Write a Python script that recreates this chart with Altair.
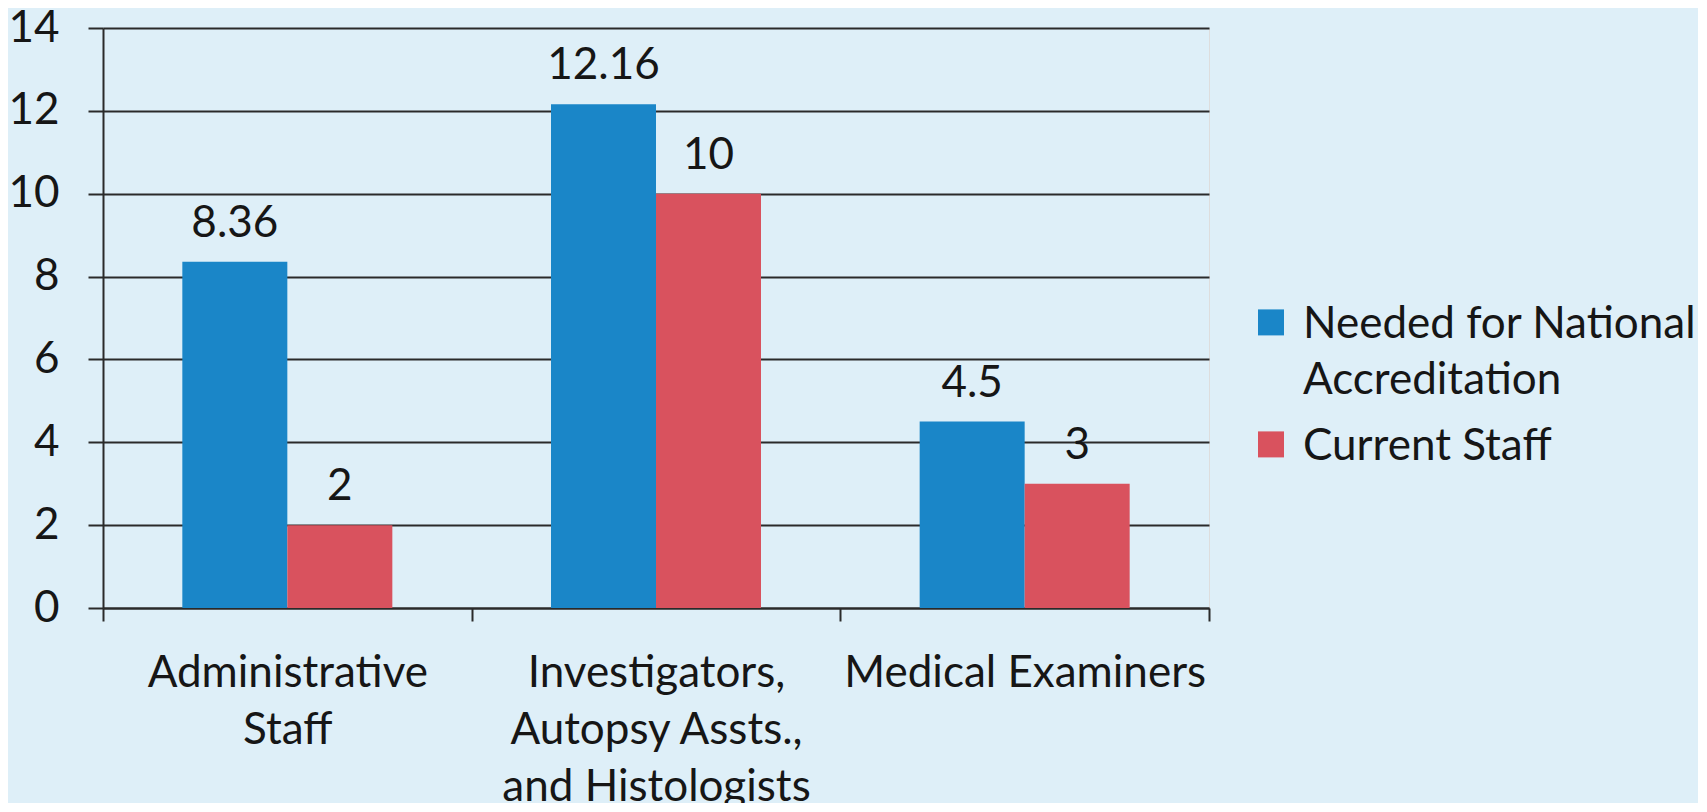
import altair as alt
import pandas as pd

categories = [
    "Administrative Staff",
    "Investigators, Autopsy Assts., and Histologists",
    "Medical Examiners",
]
series = ["Needed for National Accreditation", "Current Staff"]
needed = [8.36, 12.16, 4.5]
current = [2, 10, 3]
colors = ["#1A86C8", "#D9525E"]
y_ticks = [0, 2, 4, 6, 8, 10, 12, 14]

rows = []
for i, c in enumerate(categories):
    rows.append({"category": c, "series": series[0], "value": needed[i], "label": f"{needed[i]:g}"})
    rows.append({"category": c, "series": series[1], "value": current[i], "label": f"{current[i]:g}"})
df = pd.DataFrame(rows)

FONT = "Lato"
FS = 44
TXT = "#161616"
LINE = "#2a2a2a"

x_label_expr = (
    "datum.label == 'Administrative Staff' ? ['Administrative', 'Staff'] : "
    "datum.label == 'Investigators, Autopsy Assts., and Histologists' ? "
    "['Investigators,', 'Autopsy Assts.,', 'and Histologists'] : datum.label"
)
legend_label_expr = (
    "datum.label == 'Needed for National Accreditation' ? "
    "['Needed for National', 'Accreditation'] : datum.label"
)

x_enc = alt.X(
    "category:N",
    sort=categories,
    scale=alt.Scale(paddingInner=0, paddingOuter=0),
    axis=alt.Axis(
        title=None,
        labelAngle=0,
        tickBand="extent",
        labelExpr=x_label_expr,
        labelFont=FONT,
        labelFontSize=FS,
        labelColor=TXT,
        labelLineHeight=57,
        labelPadding=30,
        labelLimit=0,
        tickSize=13,
        tickColor=LINE,
        tickWidth=2,
        domainColor=LINE,
        domainWidth=2,
        grid=False,
    ),
)
xoff_enc = alt.XOffset(
    "series:N", sort=series, scale=alt.Scale(paddingInner=0, paddingOuter=0.7555)
)
y_enc = alt.Y(
    "value:Q",
    scale=alt.Scale(domain=[0, 14], nice=False),
    axis=alt.Axis(
        title=None,
        values=y_ticks,
        grid=True,
        gridColor=LINE,
        gridWidth=2,
        tickSize=15,
        tickColor=LINE,
        tickWidth=2,
        domainColor=LINE,
        domainWidth=2,
        labelFont=FONT,
        labelFontSize=FS,
        labelColor=TXT,
        labelPadding=29,
    ),
)

bars = alt.Chart(df).mark_bar(size=105).encode(
    x=x_enc,
    xOffset=xoff_enc,
    y=y_enc,
    color=alt.Color(
        "series:N",
        sort=series,
        scale=alt.Scale(domain=series, range=colors),
        legend=alt.Legend(
            title=None,
            orient="none",
            legendX=1146,
            legendY=288,
            symbolType="M-1,-2.2H1V-0.2H-1Z",
            symbolSize=676,
            symbolStrokeWidth=0,
            symbolOpacity=1,
            labelFont=FONT,
            labelFontSize=FS,
            labelColor=TXT,
            labelOffset=10,
            labelLimit=0,
            labelExpr=legend_label_expr,
            labelBaseline="alphabetic",
            rowPadding=22,
        ),
    ),
)

texts = alt.Chart(df).mark_text(
    font=FONT, fontSize=FS, color=TXT, baseline="alphabetic", dy=-25
).encode(
    x=alt.X("category:N", sort=categories),
    xOffset=alt.XOffset("series:N", sort=series),
    y=alt.Y("value:Q"),
    text="label:N",
)

chart = (
    alt.layer(bars, texts)
    .properties(
        width=1106,
        height=580,
        autosize=alt.AutoSizeParams(type="none"),
        padding={"left": 95, "top": 20, "right": 489, "bottom": 195},
        background="#DEEFF8",
    )
    .configure_view(stroke=None)
    .configure(style={"guide-label": {"lineHeight": 56}})
)

chart.save("out.html", embed_options={"renderer": "svg", "actions": False})
